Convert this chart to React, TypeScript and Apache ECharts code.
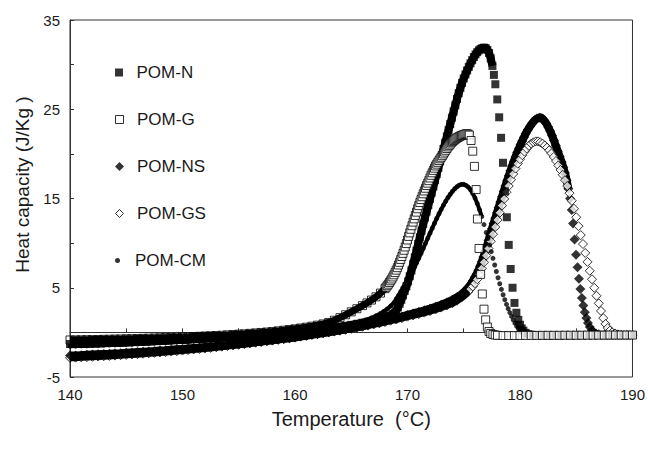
import React, { useEffect, useRef } from "react";
import * as echarts from "echarts";

// Shared temperature grid for the low-temperature baselines (°C)
const baseTemps = [140, 140.5, 141, 141.5, 142, 142.5, 143, 143.5, 144, 144.5, 145, 145.5, 146, 146.5, 147, 147.5, 148, 148.5, 149, 149.5, 150, 150.5, 151, 151.5, 152, 152.5, 153, 153.5, 154, 154.5, 155, 155.5, 156, 156.5, 157, 157.5, 158, 158.5, 159, 159.5, 160];

// Baseline heat capacity values (J/Kg) on baseTemps
const nBase = [-1.3, -1.29, -1.27, -1.25, -1.23, -1.21, -1.19, -1.17, -1.15, -1.13, -1.1, -1.08, -1.05, -1.03, -1.0, -0.97, -0.94, -0.91, -0.88, -0.85, -0.82, -0.79, -0.75, -0.72, -0.68, -0.65, -0.61, -0.57, -0.53, -0.49, -0.45, -0.41, -0.36, -0.32, -0.27, -0.22, -0.17, -0.12, -0.07, -0.02, 0.03];
const gBase = [-0.85, -0.84, -0.83, -0.82, -0.81, -0.8, -0.78, -0.77, -0.75, -0.74, -0.72, -0.71, -0.69, -0.67, -0.65, -0.63, -0.61, -0.59, -0.57, -0.55, -0.52, -0.5, -0.47, -0.44, -0.41, -0.38, -0.35, -0.32, -0.28, -0.24, -0.2, -0.16, -0.11, -0.06, -0.01, 0.04, 0.1, 0.17, 0.24, 0.32, 0.4];
const nsBase = [-2.6, -2.58, -2.55, -2.52, -2.49, -2.46, -2.43, -2.4, -2.36, -2.33, -2.29, -2.25, -2.21, -2.17, -2.13, -2.09, -2.04, -2.0, -1.95, -1.9, -1.85, -1.8, -1.75, -1.7, -1.64, -1.59, -1.53, -1.47, -1.41, -1.35, -1.29, -1.23, -1.16, -1.09, -1.02, -0.95, -0.88, -0.81, -0.73, -0.65, -0.57];
const gsBase = [-2.85, -2.83, -2.8, -2.77, -2.74, -2.71, -2.67, -2.64, -2.6, -2.56, -2.52, -2.48, -2.44, -2.39, -2.35, -2.3, -2.25, -2.2, -2.15, -2.1, -2.04, -1.98, -1.92, -1.86, -1.8, -1.74, -1.67, -1.6, -1.53, -1.46, -1.39, -1.32, -1.24, -1.16, -1.08, -1.0, -0.92, -0.83, -0.74, -0.65, -0.56];
const cmBase = [-1.55, -1.54, -1.52, -1.5, -1.48, -1.46, -1.44, -1.42, -1.4, -1.38, -1.35, -1.33, -1.3, -1.27, -1.24, -1.21, -1.18, -1.15, -1.12, -1.09, -1.05, -1.02, -0.98, -0.94, -0.9, -0.86, -0.82, -0.78, -0.73, -0.69, -0.64, -0.59, -0.54, -0.49, -0.43, -0.38, -0.32, -0.26, -0.2, -0.14, -0.08];

// Melting region and high-temperature tail: [temperature, heat capacity]
const nRest = [[160.5, 0.09], [161, 0.15], [161.5, 0.22], [162, 0.29], [162.5, 0.37], [163, 0.45], [163.5, 0.54], [164, 0.63], [164.5, 0.73], [165, 0.84], [165.5, 0.96], [166, 1.08], [166.5, 1.2], [167, 1.33], [167.4, 1.45], [167.8, 1.6], [168.1, 1.74], [168.4, 1.88], [168.7, 2.05], [168.85, 2.2], [169, 2.45], [169.15, 2.8], [169.3, 3.2], [169.45, 3.65], [169.6, 4.15], [169.75, 4.65], [169.9, 5.15], [170.05, 5.7], [170.2, 6.3], [170.35, 6.95], [170.5, 7.65], [170.65, 8.4], [170.8, 9.15], [170.95, 9.9], [171.1, 10.65], [171.25, 11.4], [171.4, 12.15], [171.55, 12.85], [171.7, 13.55], [171.85, 14.25], [172, 14.95], [172.15, 15.65], [172.3, 16.35], [172.45, 17.05], [172.6, 17.75], [172.75, 18.45], [172.9, 19.15], [173.05, 19.85], [173.2, 20.55], [173.35, 21.25], [173.5, 21.95], [173.65, 22.65], [173.8, 23.35], [173.95, 24.05], [174.1, 24.75], [174.25, 25.45], [174.4, 26.15], [174.55, 26.8], [174.7, 27.4], [174.85, 27.95], [175, 28.45], [175.15, 28.9], [175.3, 29.35], [175.45, 29.75], [175.6, 30.15], [175.75, 30.5], [175.9, 30.85], [176.05, 31.15], [176.2, 31.4], [176.35, 31.6], [176.5, 31.75], [176.65, 31.85], [176.8, 31.9], [176.95, 31.85], [177.1, 31.65], [177.25, 31.3], [177.4, 30.7], [177.55, 29.85], [177.68, 28.85], [177.81, 27.8], [177.98, 26.1], [178.15, 24.1], [178.32, 21.8], [178.49, 19.0], [178.66, 15.8], [178.83, 12.9], [179, 9.8], [179.17, 7.1], [179.34, 5.0], [179.51, 3.3], [179.68, 2.2], [179.85, 1.4], [180, 0.85], [180.15, 0.45], [180.3, 0.2], [180.5, -0.05], [180.75, -0.2], [181, -0.27], [181.5, -0.32], [182, -0.34], [182.5, -0.35], [183, -0.35], [183.5, -0.35], [184, -0.34], [184.5, -0.34], [185, -0.33], [185.5, -0.33], [186, -0.33], [186.5, -0.32], [187, -0.32], [187.5, -0.32], [188, -0.31], [188.5, -0.31], [189, -0.31], [189.5, -0.3], [190, -0.3]];

const gRest = [[160.5, 0.49], [161, 0.58], [161.5, 0.69], [162, 0.81], [162.5, 0.95], [163, 1.11], [163.5, 1.36], [164, 1.65], [164.5, 1.97], [165, 2.3], [165.5, 2.65], [166, 3.0], [166.4, 3.3], [166.8, 3.62], [167.2, 3.98], [167.6, 4.4], [168, 4.9], [168.1, 5.06], [168.2, 5.23], [168.3, 5.4], [168.4, 5.59], [168.5, 5.78], [168.6, 5.98], [168.7, 6.21], [168.8, 6.45], [168.9, 6.7], [169, 6.97], [169.1, 7.25], [169.2, 7.55], [169.3, 7.85], [169.4, 8.17], [169.5, 8.5], [169.6, 8.85], [169.7, 9.2], [169.8, 9.57], [169.9, 9.95], [170, 10.35], [170.1, 10.75], [170.2, 11.15], [170.3, 11.55], [170.4, 11.95], [170.5, 12.35], [170.6, 12.72], [170.7, 13.1], [170.8, 13.47], [170.9, 13.85], [171, 14.2], [171.1, 14.55], [171.2, 14.88], [171.3, 15.2], [171.4, 15.53], [171.5, 15.85], [171.6, 16.15], [171.7, 16.45], [171.8, 16.72], [171.9, 17.0], [172, 17.3], [172.1, 17.6], [172.2, 17.88], [172.3, 18.15], [172.4, 18.4], [172.5, 18.65], [172.6, 18.85], [172.7, 19.05], [172.8, 19.25], [172.9, 19.45], [173, 19.62], [173.1, 19.8], [173.2, 20.0], [173.3, 20.2], [173.4, 20.4], [173.5, 20.6], [173.6, 20.78], [173.7, 20.95], [173.8, 21.1], [173.9, 21.25], [174, 21.38], [174.1, 21.5], [174.2, 21.6], [174.3, 21.7], [174.4, 21.78], [174.5, 21.85], [174.6, 21.93], [174.7, 22.0], [174.8, 22.05], [174.9, 22.1], [175, 22.15], [175.1, 22.2], [175.2, 22.23], [175.3, 22.25], [175.4, 22.2], [175.5, 22.1], [175.65, 21.5], [175.8, 20.3], [175.95, 18.6], [176.1, 16.0], [176.22, 12.7], [176.36, 9.4], [176.5, 6.5], [176.65, 4.3], [176.8, 2.6], [176.95, 1.4], [177.1, 0.6], [177.25, 0.1], [177.4, -0.12], [177.6, -0.24], [177.8, -0.3], [178, -0.33], [178.5, -0.35], [179, -0.35], [179.5, -0.35], [180, -0.35], [180.5, -0.34], [181, -0.34], [181.5, -0.34], [182, -0.33], [182.5, -0.33], [183, -0.33], [183.5, -0.33], [184, -0.32], [184.5, -0.32], [185, -0.32], [185.5, -0.32], [186, -0.31], [186.5, -0.31], [187, -0.31], [187.5, -0.31], [188, -0.3], [188.5, -0.3], [189, -0.3], [189.5, -0.3], [190, -0.3]];

const nsRest = [[160.5, -0.47], [161, -0.38], [161.5, -0.28], [162, -0.18], [162.5, -0.08], [163, 0.02], [163.5, 0.13], [164, 0.24], [164.5, 0.35], [165, 0.47], [165.5, 0.59], [166, 0.72], [166.5, 0.86], [167, 1.0], [167.5, 1.14], [168, 1.29], [168.5, 1.45], [169, 1.61], [169.5, 1.78], [170, 1.96], [170.5, 2.12], [171, 2.29], [171.5, 2.47], [172, 2.66], [172.5, 2.87], [173, 3.1], [173.5, 3.36], [174, 3.65], [174.4, 3.93], [174.8, 4.28], [175.1, 4.62], [175.4, 5.02], [175.6, 5.35], [175.8, 5.75], [176, 6.2], [176.15, 6.55], [176.3, 6.95], [176.45, 7.4], [176.6, 7.9], [176.75, 8.45], [176.9, 9.05], [177.05, 9.65], [177.2, 10.3], [177.35, 10.95], [177.5, 11.6], [177.65, 12.2], [177.8, 12.8], [177.95, 13.4], [178.1, 14.0], [178.25, 14.6], [178.4, 15.2], [178.55, 15.8], [178.7, 16.4], [178.85, 17.0], [179, 17.55], [179.15, 18.1], [179.3, 18.65], [179.45, 19.15], [179.6, 19.65], [179.75, 20.15], [179.9, 20.6], [180.05, 21.05], [180.2, 21.45], [180.35, 21.85], [180.5, 22.25], [180.7, 22.7], [180.9, 23.1], [181.1, 23.45], [181.3, 23.75], [181.5, 23.95], [181.7, 24.05], [181.85, 24.05], [182, 23.95], [182.17, 23.7], [182.34, 23.4], [182.51, 23.0], [182.68, 22.55], [182.85, 22.05], [183.02, 21.5], [183.19, 20.9], [183.36, 20.3], [183.53, 19.7], [183.7, 19.1], [183.85, 18.5], [184, 17.85], [184.15, 17.05], [184.3, 16.1], [184.45, 15.0], [184.6, 13.7], [184.72, 12.2], [184.85, 10.4], [184.98, 8.7], [185.11, 7.3], [185.24, 6.0], [185.37, 4.85], [185.5, 3.85], [185.63, 3.0], [185.76, 2.25], [185.9, 1.6], [186.04, 1.05], [186.2, 0.6], [186.38, 0.25], [186.56, 0.02], [186.75, -0.12], [187, -0.22], [187.5, -0.28], [188, -0.3], [188.5, -0.3], [189, -0.3], [189.5, -0.3], [190, -0.3]];

const gsRest = [[160.5, -0.46], [161, -0.37], [161.5, -0.28], [162, -0.19], [162.5, -0.1], [163, 0.0], [163.5, 0.1], [164, 0.19], [164.5, 0.29], [165, 0.4], [165.5, 0.51], [166, 0.63], [166.5, 0.76], [167, 0.89], [167.5, 1.01], [168, 1.15], [168.5, 1.31], [169, 1.44], [169.5, 1.59], [170, 1.76], [170.5, 1.9], [171, 2.05], [171.5, 2.21], [172, 2.38], [172.5, 2.57], [173, 2.78], [173.5, 3.01], [174, 3.27], [174.4, 3.55], [174.8, 3.9], [175.1, 4.2], [175.4, 4.55], [175.6, 4.85], [175.8, 5.15], [176, 5.5], [176.2, 5.95], [176.4, 6.5], [176.6, 7.15], [176.8, 7.85], [177, 8.6], [177.2, 9.4], [177.4, 10.2], [177.6, 11.0], [177.8, 11.8], [178, 12.6], [178.2, 13.4], [178.4, 14.2], [178.6, 14.95], [178.8, 15.7], [179, 16.4], [179.2, 17.1], [179.4, 17.75], [179.6, 18.35], [179.8, 18.9], [180, 19.4], [180.2, 19.85], [180.4, 20.25], [180.6, 20.6], [180.8, 20.9], [181, 21.15], [181.2, 21.3], [181.4, 21.4], [181.6, 21.4], [181.8, 21.3], [182, 21.15], [182.2, 20.95], [182.4, 20.7], [182.6, 20.4], [182.8, 20.05], [183, 19.65], [183.2, 19.2], [183.4, 18.7], [183.6, 18.2], [183.8, 17.65], [184, 17.05], [184.2, 16.4], [184.4, 15.6], [184.6, 14.75], [184.8, 13.85], [185, 12.9], [185.2, 11.9], [185.4, 10.9], [185.6, 9.9], [185.8, 8.9], [186, 7.9], [186.2, 6.9], [186.4, 5.95], [186.6, 5.0], [186.8, 4.1], [187, 3.25], [187.2, 2.4], [187.4, 1.6], [187.6, 0.95], [187.8, 0.5], [188, 0.2], [188.2, 0.0], [188.45, -0.12], [188.7, -0.22], [189, -0.27], [189.5, -0.3], [190, -0.3]];

const cmRest = [[160.5, -0.01], [161, 0.07], [161.5, 0.15], [162, 0.24], [162.5, 0.33], [163, 0.43], [163.5, 0.54], [164, 0.66], [164.5, 0.79], [165, 0.93], [165.5, 1.08], [166, 1.25], [166.4, 1.42], [166.8, 1.62], [167.2, 1.85], [167.6, 2.12], [167.9, 2.36], [168.2, 2.63], [168.5, 2.95], [168.8, 3.32], [169, 3.75], [169.2, 4.15], [169.4, 4.57], [169.6, 5.01], [169.8, 5.42], [170, 5.85], [170.2, 6.3], [170.4, 6.77], [170.6, 7.26], [170.8, 7.77], [171, 8.3], [171.2, 8.85], [171.4, 9.41], [171.6, 9.98], [171.8, 10.55], [172, 11.12], [172.2, 11.68], [172.4, 12.23], [172.6, 12.77], [172.8, 13.29], [173, 13.79], [173.2, 14.26], [173.4, 14.7], [173.6, 15.11], [173.8, 15.48], [174, 15.81], [174.2, 16.09], [174.4, 16.32], [174.6, 16.49], [174.8, 16.58], [175, 16.58], [175.2, 16.48], [175.4, 16.28], [175.6, 15.98], [175.8, 15.57], [176, 15.06], [176.2, 14.45], [176.4, 13.75], [176.6, 12.96], [176.8, 12.08], [177, 11.2], [177.15, 10.5], [177.3, 9.8], [177.45, 9.05], [177.6, 8.3], [177.75, 7.55], [177.9, 6.82], [178.05, 6.12], [178.2, 5.45], [178.35, 4.82], [178.5, 4.22], [178.65, 3.66], [178.8, 3.14], [178.95, 2.66], [179.1, 2.22], [179.25, 1.8], [179.4, 1.4], [179.55, 1.03], [179.7, 0.7], [179.85, 0.42], [180, 0.2], [180.2, 0.0], [180.45, -0.15], [180.7, -0.24], [181, -0.28], [181.5, -0.3], [182, -0.3], [182.5, -0.3], [183, -0.3], [183.5, -0.3], [184, -0.3], [184.5, -0.3], [185, -0.3], [185.5, -0.3], [186, -0.3], [186.5, -0.3], [187, -0.3], [187.5, -0.3], [188, -0.3], [188.5, -0.3], [189, -0.3], [189.5, -0.3], [190, -0.3]];

const seriesNames = ["POM-N", "POM-G", "POM-NS", "POM-GS", "POM-CM"];
const xTicks = { min: 140, max: 190, step: 10 };
const yTicks = { min: -5, max: 35, step: 10 };

const FONT = "'Liberation Sans', Arial, Helvetica, sans-serif";

function join(base: number[], rest: number[][]) {
  return baseTemps.map((t, i) => [t, base[i]]).concat(rest);
}

const SQUARE = "path://M0 0 L10 0 L10 10 L0 10 Z";
const DIAMOND = "path://M5 0 L10 5 L5 10 L0 5 Z";
const DOT = "path://M5 0 A5 5 0 1 1 5 10 A5 5 0 1 1 5 0 Z";

export default function App() {
  const ref = useRef<HTMLDivElement>(null);

  useEffect(() => {
    document.body.style.margin = "0";
    if (!ref.current) return;
    const chart = echarts.init(ref.current, null, { renderer: "svg" });

    const filled = { color: "#000" };
    const open = { color: "#fff", borderColor: "#000", borderWidth: 1 };

    const pomN = join(nBase, nRest);
    const pomG = join(gBase, gRest);
    const pomNS = join(nsBase, nsRest);
    const pomGS = join(gsBase, gsRest);
    const pomCM = join(cmBase, cmRest);

    // dense (overlapping) stretch of each curve, where the markers merge into a solid band
    const dense = (d: number[][], tMax: number) => d.filter((p) => p[0] <= tMax);
    const openData = (d: number[][], tMax: number) =>
      d.map((p) => (p[0] <= tMax ? { value: p, itemStyle: { color: "rgba(0,0,0,0)" } } : p));

    const band = (name: string, data: number[][], width: number) => ({
      name,
      type: "line",
      data,
      symbol: "none",
      silent: true,
      lineStyle: { color: "#000", width },
      z: 1,
    });

    const legendSpec = [
      { name: seriesNames[0], icon: SQUARE, size: 8, style: filled },
      { name: seriesNames[1], icon: SQUARE, size: 8, style: open },
      { name: seriesNames[2], icon: DIAMOND, size: 9, style: filled },
      { name: seriesNames[3], icon: DIAMOND, size: 8, style: open },
      { name: seriesNames[4], icon: DOT, size: 5, style: filled },
    ];
    const rowCenters = [72, 119, 166, 213, 260];

    const option: any = {
      animation: false,
      backgroundColor: "#fff",
      grid: {
        left: 70,
        right: 14,
        top: 20,
        bottom: 73,
        show: true,
        borderColor: "#333",
        borderWidth: 1,
      },
      legend: legendSpec.map((l, i) => ({
        data: [{ name: l.name, icon: l.icon, itemStyle: l.style }],
        left: 115,
        top: rowCenters[i] - 8,
        padding: 0,
        itemWidth: 25,
        itemHeight: l.size,
        symbolKeepAspect: true,
        selectedMode: false,
        textStyle: { fontFamily: FONT, fontSize: 17, color: "#1a1a1a", padding: [2, 0, 0, 0] },
      })),
      xAxis: {
        type: "value",
        min: xTicks.min,
        max: xTicks.max,
        interval: xTicks.step,
        name: "Temperature  (°C)",
        nameLocation: "middle",
        nameGap: 32,
        nameTextStyle: { fontFamily: FONT, fontSize: 20, color: "#1a1a1a" },
        axisLine: { show: true, lineStyle: { color: "#333", width: 1 } },
        axisTick: { show: true, inside: true, length: 4, lineStyle: { color: "#333" } },
        minorTick: { show: true, splitNumber: 2, length: 4, lineStyle: { color: "#333" } },
        splitLine: { show: false },
        axisLabel: { fontFamily: FONT, fontSize: 15, color: "#1a1a1a", margin: 10 },
      },
      yAxis: {
        type: "value",
        min: yTicks.min,
        max: yTicks.max,
        interval: yTicks.step,
        name: "Heat capacity (J/Kg )",
        nameLocation: "middle",
        nameGap: 38,
        nameTextStyle: { fontFamily: FONT, fontSize: 19, color: "#1a1a1a", padding: [0, 0, 0, 28] },
        axisLine: { show: true, lineStyle: { color: "#333", width: 1 } },
        axisTick: { show: true, inside: true, length: 4, lineStyle: { color: "#333" } },
        minorTick: { show: true, splitNumber: 2, length: 4, lineStyle: { color: "#333" } },
        splitLine: { show: false },
        axisLabel: { fontFamily: FONT, fontSize: 15, color: "#1a1a1a", margin: 10 },
      },
      series: [
        band("NS band", dense(pomNS, 184.3), 8),
        band("GS band", dense(pomGS, 175.5), 7),
        band("CM band", dense(pomCM, 176.6), 4),
        band("N band", dense(pomN, 177.55), 8),
        band("G band", dense(pomG, 168), 7),
        {
          name: seriesNames[2],
          type: "scatter",
          symbol: "diamond",
          symbolSize: 10,
          itemStyle: filled,
          data: pomNS,
          silent: true,
          z: 2,
        },
        {
          name: seriesNames[3],
          type: "scatter",
          symbol: "diamond",
          symbolSize: 9,
          itemStyle: open,
          data: openData(pomGS, 175.5),
          silent: true,
          z: 2,
        },
        {
          name: seriesNames[4],
          type: "scatter",
          symbol: "circle",
          symbolSize: 5,
          itemStyle: filled,
          data: pomCM,
          silent: true,
          z: 2,
        },
        {
          name: seriesNames[0],
          type: "scatter",
          symbol: "rect",
          symbolSize: 8,
          itemStyle: filled,
          data: pomN,
          silent: true,
          z: 2,
        },
        {
          name: seriesNames[1],
          type: "scatter",
          symbol: "rect",
          symbolSize: 8,
          itemStyle: open,
          data: openData(pomG, 168),
          silent: true,
          z: 2,
        },
      ],
    };

    chart.setOption(option);
    return () => chart.dispose();
  }, []);

  return <div ref={ref} style={{ width: 648, height: 450 }} />;
}
